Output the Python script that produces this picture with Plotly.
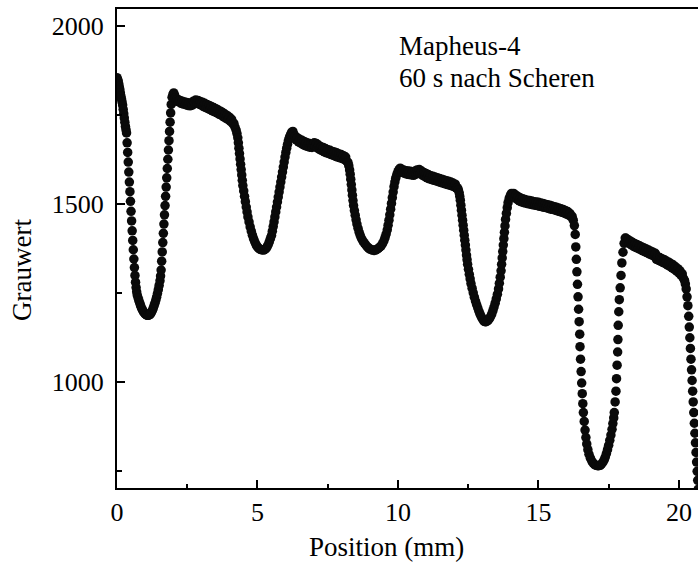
import plotly.graph_objects as go

# ---------------- data ----------------
pos_mm = [
    # first dip
    0.00,0.02,0.04,0.06,0.08,0.10,0.12,0.14,0.16,0.18,0.20,0.22,0.24,0.26,0.28,0.30,0.32,0.34,0.36,0.38,
    0.40,0.42,0.44,0.46,0.48,0.50,0.52,0.54,0.56,0.58,0.60,0.62,0.64,0.66,0.68,0.70,0.72,
    0.75,0.78,0.81,0.84,0.87,0.90,0.93,0.96,0.99,1.02,1.05,1.08,1.11,1.14,1.17,1.20,1.23,1.26,1.29,1.32,
    1.35,1.38,1.41,1.44,1.47,1.50,1.53,
    1.55,1.57,1.59,1.61,1.63,1.65,1.67,1.69,1.71,1.73,1.75,1.77,1.79,1.81,1.83,1.85,1.87,1.89,1.91,1.93,
    1.96,1.99,2.02,2.05,
    # plateau 1
    2.08,2.11,2.14,2.17,2.20,
    2.24,2.28,2.32,2.36,2.40,2.44,2.48,2.52,2.56,2.60,2.64,2.68,2.72,2.76,2.80,2.84,2.88,2.92,2.96,3.00,
    3.04,3.08,3.12,3.16,3.20,3.24,3.28,3.32,3.36,3.40,3.44,3.48,3.52,3.56,3.60,3.64,3.68,3.72,3.76,3.80,
    3.84,3.88,3.92,3.96,4.00,4.04,4.08,4.12,4.16,4.20,
    # second dip
    4.24,4.27,4.30,4.32,4.34,4.36,4.38,4.40,4.42,4.44,4.46,4.48,4.51,4.54,4.57,4.60,4.63,4.66,
    4.70,4.74,4.78,4.82,4.86,4.90,4.94,4.98,5.02,5.06,5.10,5.14,5.18,5.22,5.26,5.30,5.34,5.38,5.42,5.46,
    5.50,5.53,5.56,5.59,5.62,5.65,5.68,5.71,5.74,5.77,5.80,5.83,5.86,5.89,5.92,5.95,5.98,6.01,6.04,6.07,6.10,
    6.14,6.18,6.22,6.26,6.30,
    # plateau 2
    6.34,6.38,6.42,6.46,6.50,6.54,6.58,6.62,6.66,6.70,6.74,6.78,6.82,6.86,6.90,6.94,6.98,7.02,7.06,7.10,
    7.14,7.18,7.22,7.26,7.30,7.34,7.38,7.42,7.46,7.50,7.54,7.58,7.62,7.66,7.70,7.74,7.78,7.82,7.86,7.90,
    7.94,7.98,8.02,8.06,8.10,8.14,8.18,8.22,
    # third dip
    8.25,8.28,8.30,8.32,8.34,8.36,8.38,8.40,8.42,8.45,8.48,8.51,8.54,8.58,8.62,8.66,8.70,
    8.75,8.80,8.85,8.90,8.95,9.00,9.05,9.10,9.15,9.20,9.25,9.30,9.35,9.40,9.45,9.50,
    9.54,9.58,9.62,9.65,9.68,9.71,9.74,9.77,9.80,9.83,9.86,9.89,9.92,9.96,10.00,10.04,10.08,10.12,
    # plateau 3
    10.16,10.20,10.24,10.28,10.32,10.36,10.40,10.44,10.48,10.52,10.56,10.60,10.64,10.68,10.72,10.76,10.80,
    10.84,10.88,10.92,10.96,11.00,11.04,11.08,11.12,11.16,11.20,11.24,11.28,11.32,11.36,11.40,11.44,11.48,
    11.52,11.56,11.60,11.64,11.68,11.72,11.76,11.80,11.84,11.88,11.92,11.96,12.00,12.04,12.08,12.12,
    # fourth dip
    12.15,12.18,12.20,12.22,12.24,12.26,12.28,12.30,12.32,12.34,12.36,12.38,12.40,12.42,12.44,12.46,12.48,
    12.51,12.54,12.57,12.60,12.64,12.68,12.72,12.76,12.80,12.84,12.88,12.92,12.96,13.00,13.04,13.07,
    13.10,13.14,13.18,13.22,13.26,13.30,13.34,13.38,13.42,13.46,13.50,13.54,13.58,13.61,13.64,13.67,
    13.69,13.71,13.73,13.75,13.77,13.79,13.81,13.83,13.86,13.89,13.92,13.96,14.00,14.04,
    # plateau 4
    14.08,14.12,14.16,14.20,14.24,14.28,14.32,14.36,14.40,14.44,14.48,14.52,14.56,14.60,14.64,14.68,14.72,
    14.76,14.80,14.84,14.88,14.92,14.96,15.00,15.04,15.08,15.12,15.16,15.20,15.24,15.28,15.32,15.36,15.40,
    15.44,15.48,15.52,15.56,15.60,15.64,15.68,15.72,15.76,15.80,15.84,15.88,15.92,15.96,16.00,16.04,16.08,
    16.12,16.16,16.20,16.24,16.28,
    # fifth (deep) dip
    16.31,16.33,16.35,16.37,16.39,16.41,16.43,16.45,16.47,16.48,16.50,16.52,16.54,16.56,16.58,16.60,
    16.63,16.66,16.69,16.72,16.76,16.80,16.85,16.90,16.95,17.00,17.05,17.10,17.15,17.20,17.24,17.29,17.34,
    17.38,17.42,17.46,17.50,17.54,17.58,17.62,17.65,17.68,17.70,17.73,17.76,17.78,17.80,17.82,17.83,17.84,
    17.86,17.88,17.91,17.94,17.97,18.01,18.05,18.09,
    # plateau 5
    18.12,18.16,18.20,18.24,18.28,18.32,18.36,18.40,18.44,18.48,18.52,18.56,18.60,18.64,18.68,18.72,18.76,
    18.80,18.84,18.88,18.92,18.96,19.00,19.04,19.08,19.12,19.16,19.20,19.24,19.28,19.32,19.36,19.40,19.44,
    19.48,19.52,19.56,19.60,19.64,19.68,19.72,19.76,19.80,19.84,19.88,19.92,19.96,20.00,20.04,20.08,20.12,
    20.16,20.20,
    # last drop
    20.23,20.26,20.29,20.32,20.35,20.37,20.39,20.41,20.43,20.45,20.47,20.49,20.51,20.53,20.55,20.57,20.59,
    20.61,20.63,20.65,20.67,20.69,
]

grauwert = [
    # first dip
    1855,1850,1846,1838,1830,1822,1812,1803,1795,1787,1778,1766,1754,1742,1730,1718,1709,1700,1672,1645,
    1618,1590,1562,1535,1508,1480,1453,1425,1398,1372,1346,1322,1300,1281,1266,1254,1245,
    1237,1229,1222,1215,1209,1204,1200,1196,1193,1191,1189,1188,1188,1189,1190,1193,1197,1202,1208,1215,
    1222,1230,1239,1249,1260,1272,1285,
    1298,1315,1340,1366,1392,1418,1444,1470,1496,1522,1548,1574,1600,1626,1652,1678,1704,1730,1756,1780,
    1800,1808,1812,1806,
    # plateau 1
    1798,1790,1794,1788,1792,
    1791,1783,1789,1781,1787,1779,1785,1777,1784,1776,1783,1778,1789,1784,1792,1785,1791,1781,1788,1778,
    1786,1774,1783,1771,1780,1768,1777,1765,1774,1762,1771,1759,1768,1756,1764,1752,1761,1749,1757,1745,
    1753,1741,1749,1737,1744,1732,1738,1726,1727,1716,
    # second dip
    1708,1698,1686,1672,1657,1642,1627,1612,1597,1582,1567,1552,1537,1522,1507,1492,1478,1464,
    1450,1436,1424,1413,1403,1395,1388,1382,1378,1375,1373,1372,1372,1371,1373,1375,1380,1386,1394,1403,
    1412,1424,1437,1450,1464,1478,1492,1506,1520,1534,1548,1562,1576,1590,1604,1618,1632,1645,1657,1668,1678,
    1688,1696,1702,1704,1696,
    # plateau 2
    1690,1680,1686,1675,1682,1671,1679,1667,1676,1664,1673,1662,1671,1660,1669,1659,1668,1672,1662,1670,
    1657,1665,1653,1661,1650,1659,1647,1656,1644,1653,1642,1651,1639,1648,1637,1646,1634,1644,1632,1641,
    1630,1639,1628,1636,1625,1632,1620,1617,
    # third dip
    1608,1596,1584,1570,1555,1540,1525,1510,1496,1482,1469,1456,1444,1432,1421,1412,1404,
    1397,1391,1386,1381,1377,1374,1372,1371,1370,1371,1373,1376,1379,1383,1389,1397,
    1406,1416,1428,1441,1455,1470,1486,1502,1518,1534,1549,1562,1573,1583,1591,1597,1601,1598,
    # plateau 3
    1589,1596,1586,1594,1584,1593,1583,1592,1582,1591,1581,1592,1584,1596,1586,1597,1586,
    1593,1581,1589,1577,1586,1574,1583,1571,1580,1569,1578,1567,1576,1565,1574,1563,1572,
    1561,1570,1559,1568,1557,1566,1555,1564,1553,1562,1551,1559,1549,1556,1545,1546,
    # fourth dip
    1540,1532,1522,1511,1497,1483,1469,1455,1441,1427,1413,1399,1385,1371,1357,1344,1331,
    1317,1303,1290,1277,1264,1251,1239,1228,1218,1209,1200,1192,1185,1179,1174,1171,
    1170,1170,1172,1175,1179,1185,1192,1201,1211,1222,1234,1247,1262,1278,1295,1313,
    1331,1349,1367,1385,1403,1421,1439,1457,1474,1490,1504,1516,1524,1530,
    # plateau 4
    1524,1530,1518,1525,1513,1521,1509,1517,1506,1515,1504,1513,1503,1511,1501,1510,1500,
    1509,1498,1507,1497,1506,1496,1505,1494,1503,1493,1502,1491,1500,1490,1498,1488,1497,
    1486,1495,1485,1493,1483,1491,1481,1489,1479,1487,1477,1485,1475,1482,1472,1479,1469,
    1474,1465,1466,1455,1440,
    # fifth (deep) dip
    1415,1380,1345,1310,1275,1240,1205,1170,1135,1100,1065,1030,998,968,940,915,
    890,866,845,827,811,798,787,779,773,769,767,766,766,767,770,775,782,
    790,800,811,823,837,852,868,884,900,915,945,975,1010,1048,1085,1120,1160,
    1198,1232,1265,1300,1335,1365,1390,1405,
    # plateau 5
    1404,1394,1400,1389,1396,1385,1392,1381,1389,1378,1386,1375,1383,1372,1380,1369,1377,
    1366,1374,1363,1371,1360,1368,1357,1365,1354,1362,1345,1353,1342,1350,1339,1347,1336,
    1344,1333,1340,1329,1337,1325,1333,1321,1329,1317,1324,1312,1319,1307,1313,1300,1304,
    1292,1286,
    # last drop
    1276,1262,1240,1215,1185,1155,1125,1095,1065,1035,1005,975,945,915,885,857,830,
    803,776,750,725,700,
]

assert len(pos_mm) == len(grauwert), (len(pos_mm), len(grauwert))

x_ticks = [0, 5, 10, 15, 20]
x_minor = [2.5, 7.5, 12.5, 17.5]
y_ticks = [1000, 1500, 2000]
y_minor = [750, 1250, 1750]

label_lines = ["Mapheus-4", "60 s nach Scheren"]
x_title = "Position (mm)"
y_title = "Grauwert"

# ---------------- figure ----------------
W, H = 698, 565
L, R, T, B = 117, 0, 9, 77
pw, ph = W - L - R, H - T - B

def px_x(px):
    return (px - L) / pw

def px_y(py):
    return (H - B - py) / ph

FONT = "Liberation Serif, Times New Roman, serif"

fig = go.Figure(go.Scatter(
    x=pos_mm, y=grauwert, mode="markers",
    marker=dict(size=9.5, color="#0a0a0a", line=dict(width=0)),
    hoverinfo="skip",
))

axis_common = dict(
    showgrid=False, zeroline=False, showline=True, linewidth=2, linecolor="black",
    ticks="inside", ticklen=8, tickwidth=1.5, tickcolor="black",
    tickfont=dict(family=FONT, size=26, color="black"),
)

fig.update_xaxes(
    range=[0, 20.68], tickmode="array", tickvals=x_ticks,
    ticktext=[str(v) for v in x_ticks], mirror=True,
    minor=dict(ticks="inside", ticklen=4, tickwidth=1.5, tickcolor="black", tickvals=x_minor),
    ticklabelstandoff=0,
    **axis_common,
)
fig.update_yaxes(
    range=[703.3, 2047.7], tickmode="array", tickvals=y_ticks,
    ticktext=[str(v) for v in y_ticks], mirror=False,
    minor=dict(ticks="inside", ticklen=5, tickwidth=1.5, tickcolor="black", tickvals=y_minor),
    ticklabelstandoff=6,
    **axis_common,
)

ann = [
    dict(text=x_title, x=px_x(386), y=px_y(547), xanchor="center", yanchor="middle"),
    dict(text=y_title, x=px_x(22), y=px_y(270), xanchor="center", yanchor="middle", textangle=-90),
    dict(text=label_lines[0], x=px_x(397), y=px_y(46), xanchor="left", yanchor="middle"),
    dict(text=label_lines[1], x=px_x(397), y=px_y(78), xanchor="left", yanchor="middle"),
]
for a in ann:
    a.update(xref="paper", yref="paper", showarrow=False,
             font=dict(family=FONT, size=27, color="black"))

fig.update_layout(
    width=W, height=H, margin=dict(l=L, r=R, t=T, b=B, pad=0),
    paper_bgcolor="white", plot_bgcolor="white", showlegend=False,
    annotations=ann,
)

fig.write_html("out.html")
